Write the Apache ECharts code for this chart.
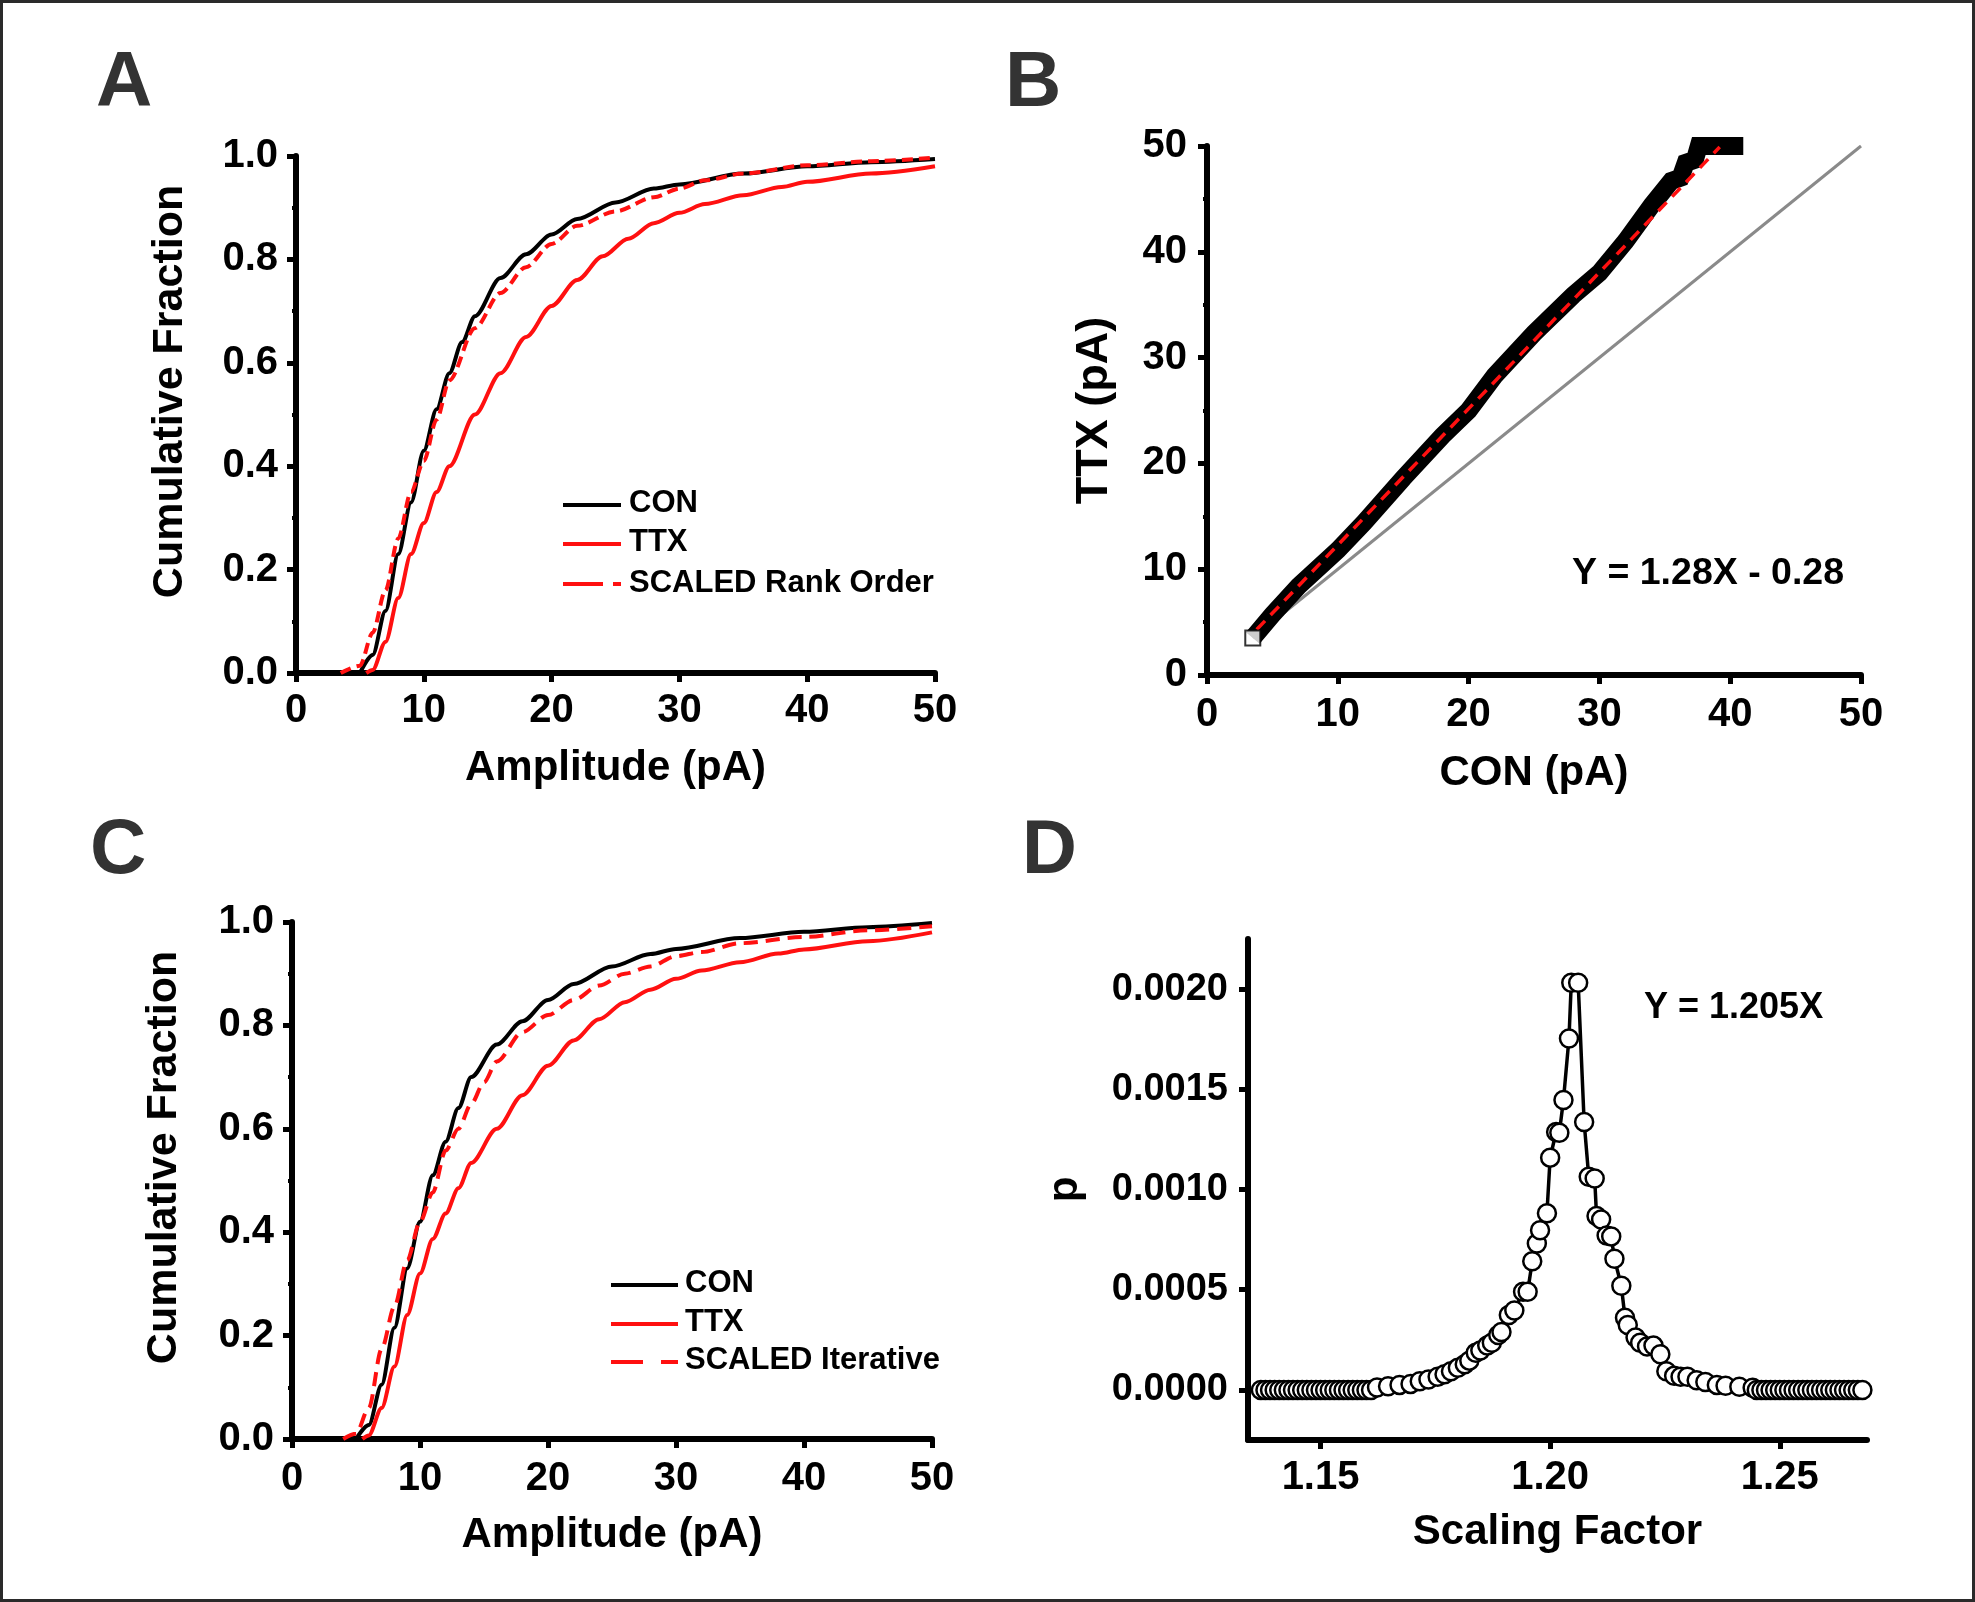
<!DOCTYPE html>
<html>
<head>
<meta charset="utf-8">
<script src="https://cdn.jsdelivr.net/npm/echarts@6/dist/echarts.min.js"></script>
<style>
  html, body { margin: 0; padding: 0; background: #fff; }
  #chart { width: 1975px; height: 1602px; }
</style>
</head>
<body>
<div id="chart"></div>
<script>
// ---- A: cumulative fraction, rank order scaling ----
const ampConA = [5, 6, 7, 8, 9, 10, 11, 12, 13, 14, 16, 18, 20, 22, 25, 28, 30, 35, 40, 45, 50];
const cumConA = [0, 0.035, 0.12, 0.23, 0.33, 0.43, 0.51, 0.58, 0.64, 0.69, 0.764, 0.81, 0.848, 0.878, 0.91, 0.937, 0.945, 0.966, 0.98, 0.988, 0.994];
const ampTtxA = [5.5, 6, 7, 8, 9, 10, 11, 12, 14, 16, 18, 20, 22, 24, 26, 28, 30, 32, 35, 38, 40, 45, 50];
const cumTtxA = [0, 0.006, 0.06, 0.145, 0.23, 0.29, 0.35, 0.40, 0.50, 0.58, 0.65, 0.71, 0.76, 0.806, 0.84, 0.87, 0.89, 0.907, 0.924, 0.94, 0.95, 0.966, 0.98];
const ampRankA = [3.5, 5, 6, 7, 8, 9, 10, 11, 12, 14, 16, 18, 20, 22, 25, 28, 30, 32, 35, 40, 45, 50];
const cumRankA = [0, 0.014, 0.078, 0.16, 0.26, 0.35, 0.41, 0.49, 0.566, 0.667, 0.735, 0.785, 0.83, 0.865, 0.893, 0.92, 0.937, 0.953, 0.966, 0.982, 0.99, 0.997];

// ---- B: TTX vs CON rank order plot ----
const conB = [3.5, 5, 7, 10, 12, 15, 18, 20, 22, 25, 28, 30, 32, 34, 35.5, 36.2, 36.6, 37.3, 37.6, 41];
const ttxB = [3.5, 5.7, 8.4, 11.8, 14.4, 18.6, 22.6, 25.0, 28.3, 32.3, 35.9, 38.0, 41.0, 44.4, 46.7, 47.0, 48.4, 48.7, 50, 50];
const fitX = [3.8, 39.2];
const fitY = [4.3, 49.9];
const unityX = [3.5, 50];
const unityY = [3.5, 50];

// ---- C: cumulative fraction, iterative scaling ----
const ampConC = [5, 6, 7, 8, 9, 10, 11, 12, 13, 14, 16, 18, 20, 22, 25, 28, 30, 35, 40, 45, 50];
const cumConC = [0, 0.027, 0.105, 0.215, 0.33, 0.42, 0.51, 0.575, 0.64, 0.70, 0.763, 0.808, 0.849, 0.88, 0.914, 0.938, 0.948, 0.969, 0.981, 0.99, 0.998];
const ampTtxC = [5.5, 6, 7, 8, 9, 10, 11, 12, 13, 14, 16, 18, 20, 22, 24, 26, 28, 30, 32, 35, 38, 40, 45, 50];
const cumTtxC = [0, 0.007, 0.06, 0.14, 0.24, 0.32, 0.387, 0.436, 0.485, 0.534, 0.60, 0.665, 0.722, 0.771, 0.812, 0.845, 0.869, 0.89, 0.906, 0.922, 0.939, 0.947, 0.963, 0.98];
const ampIterC = [4, 5, 6, 7, 8, 9, 10, 11, 12, 13, 14, 15, 16, 18, 20, 22, 24, 26, 28, 30, 32, 35, 40, 45, 50];
const cumIterC = [0, 0.01, 0.06, 0.174, 0.256, 0.346, 0.42, 0.477, 0.558, 0.60, 0.648, 0.69, 0.73, 0.787, 0.82, 0.849, 0.877, 0.90, 0.914, 0.934, 0.942, 0.959, 0.971, 0.984, 0.992];

// ---- D: p vs scaling factor ----
const scaleD = [
  1.137, 1.138, 1.139, 1.140, 1.141, 1.142, 1.143, 1.144, 1.145, 1.146, 1.147, 1.148, 1.149,
  1.150, 1.151, 1.152, 1.153, 1.154, 1.155, 1.156, 1.157, 1.158, 1.159, 1.160, 1.161,
  1.1623, 1.1647, 1.1672, 1.1696, 1.1716, 1.1735, 1.1755, 1.1770, 1.1784, 1.1799, 1.1814, 1.1824,
  1.1838, 1.1848, 1.1863, 1.1873, 1.1887, 1.1894, 1.1910, 1.1922, 1.1941, 1.1951, 1.1961, 1.1971,
  1.1978, 1.1993, 1.2000, 1.2013, 1.2020, 1.2029, 1.2041, 1.2046, 1.2061, 1.2074, 1.2084, 1.2097,
  1.2101, 1.2111, 1.2123, 1.2133, 1.2140, 1.2155, 1.2163, 1.2169, 1.2186, 1.2196, 1.2211, 1.2225,
  1.2240, 1.2253, 1.2270, 1.2284, 1.2299, 1.2319, 1.2338, 1.2363, 1.2382, 1.2412, 1.2441,
  1.245, 1.246, 1.247, 1.248, 1.249, 1.250, 1.251, 1.252, 1.253, 1.254, 1.255, 1.256,
  1.257, 1.258, 1.259, 1.260, 1.261, 1.262, 1.263, 1.264, 1.265, 1.266, 1.267, 1.268
];
const pD = [
  0, 0, 0, 0, 0, 0, 0, 0, 0, 0, 0, 0, 0,
  0, 0, 0, 0, 0, 0, 0, 0, 0, 0, 0, 0,
  0.000012, 0.000018, 0.000025, 0.000030, 0.000043, 0.000052, 0.000066, 0.000078, 0.000093, 0.000110, 0.000128, 0.000146,
  0.000185, 0.000196, 0.000221, 0.000235, 0.000274, 0.000289, 0.000374, 0.000396, 0.000490, 0.000490, 0.000642, 0.000731,
  0.000797, 0.000882, 0.001159, 0.001287, 0.001283, 0.001447, 0.001754, 0.002032, 0.002032, 0.001337, 0.001064, 0.001055,
  0.000868, 0.000850, 0.000770, 0.000766, 0.000654, 0.000520, 0.000360, 0.000324, 0.000262, 0.000235, 0.000217, 0.000221,
  0.000178, 0.000093, 0.000070, 0.000066, 0.000066, 0.000048, 0.000039, 0.000025, 0.000021, 0.000016, 0.000011,
  0, 0, 0, 0, 0, 0, 0, 0, 0, 0, 0, 0,
  0, 0, 0, 0, 0, 0, 0, 0, 0, 0, 0, 0
];
const ticksD_x = [1.15, 1.20, 1.25];
const ticksD_y = [0, 0.0005, 0.0010, 0.0015, 0.0020];

const RED = '#ff1010';
const FONT = 'Liberation Sans, Arial, sans-serif';

function zip(xs, ys) { return xs.map((x, i) => [x, ys[i]]); }

function tickLabel(extra) {
  return Object.assign({ color: '#000', fontSize: 40, fontWeight: 'bold', fontFamily: FONT, margin: 18 }, extra);
}

// common axis styling
function axisBase(extra) {
  return Object.assign({
    type: 'value',
    splitLine: { show: false },
    axisLine: { show: true, onZero: false, lineStyle: { color: '#000', width: 6 } },
    axisTick: { show: true, inside: false, length: 9, lineStyle: { color: '#000', width: 5 } },
    axisLabel: tickLabel({}),
    nameLocation: 'middle',
    nameTextStyle: { color: '#000', fontSize: 42, fontWeight: 'bold', fontFamily: FONT }
  }, extra);
}
const minorY = { show: true, splitNumber: 2, length: 4, lineStyle: { color: '#000', width: 4 } };
const yTitleStyle = { color: '#000', fontSize: 43, fontWeight: 'bold', fontFamily: FONT, padding: [0, 0, 0, 46] };

let myChart = echarts.init(document.getElementById('chart'), null, { renderer: 'canvas' });

const option = {
  backgroundColor: '#fff',
  animation: false,
  grid: [
    { left: 296, top: 156, width: 639, height: 517 },
    { left: 1207, top: 146, width: 654, height: 529 },
    { left: 292, top: 922, width: 640, height: 517 },
    { left: 1248, top: 939, width: 619, height: 501 }
  ],
  xAxis: [
    axisBase({ gridIndex: 0, min: 0, max: 50, interval: 10, name: 'Amplitude (pA)', nameGap: 74,
      axisLabel: tickLabel({ margin: 18 }) }),
    axisBase({ gridIndex: 1, min: 0, max: 50, interval: 10, name: 'CON (pA)', nameGap: 77,
      axisLabel: tickLabel({ margin: 20 }) }),
    axisBase({ gridIndex: 2, min: 0, max: 50, interval: 10, name: 'Amplitude (pA)', nameGap: 75,
      axisLabel: tickLabel({ margin: 20 }) }),
    axisBase({
      gridIndex: 3, min: 1.1342, max: 1.269, name: 'Scaling Factor', nameGap: 71,
      axisTick: { show: true, length: 9, customValues: ticksD_x, lineStyle: { color: '#000', width: 5 } },
      axisLabel: tickLabel({ margin: 18, customValues: ticksD_x, formatter: v => v.toFixed(2) })
    })
  ],
  yAxis: [
    axisBase({ gridIndex: 0, min: 0, max: 1, interval: 0.2, name: 'Cumulative Fraction', nameGap: 104,
      nameTextStyle: yTitleStyle, minorTick: minorY,
      axisLabel: tickLabel({ margin: 18, formatter: v => v.toFixed(1) }) }),
    axisBase({ gridIndex: 1, min: 0, max: 50, interval: 10, name: 'TTX (pA)', nameGap: 90,
      nameTextStyle: { color: '#000', fontSize: 45, fontWeight: 'bold', fontFamily: FONT },
      minorTick: minorY,
      axisLabel: tickLabel({ margin: 20 }) }),
    axisBase({ gridIndex: 2, min: 0, max: 1, interval: 0.2, name: 'Cumulative Fraction', nameGap: 106,
      nameTextStyle: yTitleStyle, minorTick: minorY,
      axisLabel: tickLabel({ margin: 18, formatter: v => v.toFixed(1) }) }),
    axisBase({
      gridIndex: 3, min: -0.00025, max: 0.00225, name: 'p', nameGap: 162,
      axisTick: { show: true, length: 9, customValues: ticksD_y, lineStyle: { color: '#000', width: 5 } },
      axisLabel: tickLabel({ fontSize: 38, margin: 20, customValues: ticksD_y, formatter: v => v.toFixed(4) })
    })
  ],
  series: [
    // A
    { name: 'CON', type: 'line', xAxisIndex: 0, yAxisIndex: 0, data: zip(ampConA, cumConA),
      smooth: 0.3, smoothMonotone: 'x', showSymbol: false, lineStyle: { color: '#000', width: 4 }, z: 3 },
    { name: 'TTX', type: 'line', xAxisIndex: 0, yAxisIndex: 0, data: zip(ampTtxA, cumTtxA),
      smooth: 0.3, smoothMonotone: 'x', showSymbol: false, lineStyle: { color: RED, width: 4 }, z: 3 },
    { name: 'SCALED Rank Order', type: 'line', xAxisIndex: 0, yAxisIndex: 0, data: zip(ampRankA, cumRankA),
      smooth: 0.3, smoothMonotone: 'x', showSymbol: false, lineStyle: { color: RED, width: 4, type: [11, 6] }, z: 4 },
    // B
    { name: 'unity', type: 'line', xAxisIndex: 1, yAxisIndex: 1, data: zip(unityX, unityY),
      showSymbol: false, lineStyle: { color: '#8a8a8a', width: 3 }, z: 2 },
    { name: 'rank', type: 'line', xAxisIndex: 1, yAxisIndex: 1, data: zip(conB, ttxB),
      showSymbol: false, lineStyle: { color: '#000', width: 18, join: 'miter' }, z: 3 },
    { name: 'fit', type: 'line', xAxisIndex: 1, yAxisIndex: 1, data: zip(fitX, fitY),
      showSymbol: false, lineStyle: { color: RED, width: 3.5, type: [12, 8] }, z: 4 },
    { name: 'first', type: 'scatter', xAxisIndex: 1, yAxisIndex: 1, data: [[conB[0], ttxB[0]]],
      symbol: 'rect', symbolSize: 15, itemStyle: { color: '#fff', borderColor: '#000', borderWidth: 2 }, z: 5 },
    // C
    { name: 'CON', type: 'line', xAxisIndex: 2, yAxisIndex: 2, data: zip(ampConC, cumConC),
      smooth: 0.3, smoothMonotone: 'x', showSymbol: false, lineStyle: { color: '#000', width: 4 }, z: 3 },
    { name: 'TTX', type: 'line', xAxisIndex: 2, yAxisIndex: 2, data: zip(ampTtxC, cumTtxC),
      smooth: 0.3, smoothMonotone: 'x', showSymbol: false, lineStyle: { color: RED, width: 4 }, z: 3 },
    { name: 'SCALED Iterative', type: 'line', xAxisIndex: 2, yAxisIndex: 2, data: zip(ampIterC, cumIterC),
      smooth: 0.3, smoothMonotone: 'x', showSymbol: false, lineStyle: { color: RED, width: 4, type: [14, 8] }, z: 4 },
    // D
    { name: 'p', type: 'line', xAxisIndex: 3, yAxisIndex: 3, data: zip(scaleD, pD),
      symbol: 'circle', symbolSize: 18, showSymbol: true,
      lineStyle: { color: '#000', width: 3.5 },
      itemStyle: { color: '#fff', borderColor: '#000', borderWidth: 2.5 }, z: 3 }
  ],
  graphic: [
    { type: 'rect', shape: { x: 1.5, y: 1.5, width: 1972, height: 1599 }, style: { fill: 'none', stroke: '#2a2a2a', lineWidth: 3 } },
    // panel letters
    { type: 'text', left: 96, top: 45, style: { text: 'A', fontSize: 78, fontWeight: 'bold', fontFamily: FONT, fill: '#333' } },
    { type: 'text', left: 1005, top: 45, style: { text: 'B', fontSize: 78, fontWeight: 'bold', fontFamily: FONT, fill: '#333' } },
    { type: 'text', left: 90, top: 812, style: { text: 'C', fontSize: 78, fontWeight: 'bold', fontFamily: FONT, fill: '#333' } },
    { type: 'text', left: 1022, top: 814, style: { text: 'D', fontSize: 76, fontWeight: 'bold', fontFamily: FONT, fill: '#333' } },
    // annotations
    { type: 'text', left: 1572, top: 555, style: { text: 'Y = 1.28X - 0.28', fontSize: 37.5, fontWeight: 'bold', fontFamily: FONT, fill: '#000' } },
    { type: 'text', left: 1644, top: 990, style: { text: 'Y = 1.205X', fontSize: 36, fontWeight: 'bold', fontFamily: FONT, fill: '#000' } },
    // legend A
    { type: 'line', shape: { x1: 563, y1: 505, x2: 621, y2: 505 }, style: { stroke: '#000', lineWidth: 4 } },
    { type: 'line', shape: { x1: 563, y1: 544, x2: 621, y2: 544 }, style: { stroke: RED, lineWidth: 4 } },
    { type: 'line', shape: { x1: 563, y1: 584, x2: 603, y2: 584 }, style: { stroke: RED, lineWidth: 4 } },
    { type: 'line', shape: { x1: 613, y1: 584, x2: 621, y2: 584 }, style: { stroke: RED, lineWidth: 4 } },
    { type: 'text', left: 629, top: 488, style: { text: 'CON', fontSize: 31, fontWeight: 'bold', fontFamily: FONT, fill: '#000' } },
    { type: 'text', left: 629, top: 527, style: { text: 'TTX', fontSize: 31, fontWeight: 'bold', fontFamily: FONT, fill: '#000' } },
    { type: 'text', left: 629, top: 568, style: { text: 'SCALED Rank Order', fontSize: 31, fontWeight: 'bold', fontFamily: FONT, fill: '#000' } },
    // legend C
    { type: 'line', shape: { x1: 611, y1: 1285, x2: 678, y2: 1285 }, style: { stroke: '#000', lineWidth: 4 } },
    { type: 'line', shape: { x1: 611, y1: 1324, x2: 678, y2: 1324 }, style: { stroke: RED, lineWidth: 4 } },
    { type: 'line', shape: { x1: 611, y1: 1362, x2: 643, y2: 1362 }, style: { stroke: RED, lineWidth: 4 } },
    { type: 'line', shape: { x1: 661, y1: 1362, x2: 678, y2: 1362 }, style: { stroke: RED, lineWidth: 4 } },
    { type: 'text', left: 685, top: 1268, style: { text: 'CON', fontSize: 31, fontWeight: 'bold', fontFamily: FONT, fill: '#000' } },
    { type: 'text', left: 685, top: 1307, style: { text: 'TTX', fontSize: 31, fontWeight: 'bold', fontFamily: FONT, fill: '#000' } },
    { type: 'text', left: 685, top: 1345, style: { text: 'SCALED Iterative', fontSize: 31, fontWeight: 'bold', fontFamily: FONT, fill: '#000' } }
  ]
};

myChart.setOption(option);
window.addEventListener('resize', function () {
  myChart.resize();
});
</script>
</body>
</html>
